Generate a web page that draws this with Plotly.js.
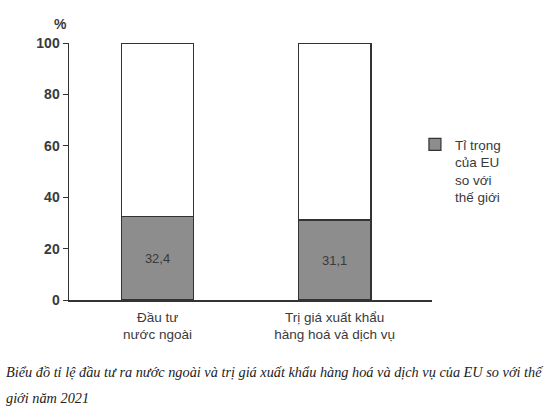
<!DOCTYPE html>
<html>
<head>
<meta charset="utf-8">
<script src="https://cdn.plot.ly/plotly-3.0.1.min.js"></script>
<style>
  html, body { margin: 0; padding: 0; background: #fff; }
  #chart { width: 546px; height: 413px; }
</style>
</head>
<body>
<div id="chart"></div>
<script>
// Data (%)
var categories = ['Đầu tư<br>nước ngoài', 'Trị giá xuất khẩu<br>hàng hoá và dịch vụ'];
var euShare = [32.4, 31.1];
var restShare = [67.6, 68.9];
var euLabels = ['32,4', '31,1'];
var yTicks = [0, 20, 40, 60, 80, 100];

var barGray = '#8d8d8d';
var ink = '#3a3a3a';

var euTrace = {
    type: 'bar',
    x: categories,
    y: euShare,
    name: 'Tỉ trọng<br>của EU<br>so với<br>thế giới',
    width: 0.41,
    marker: { color: barGray, line: { color: '#333', width: 1.2 } },
    text: euLabels,
    textposition: 'inside',
    insidetextanchor: 'middle',
    textfont: { family: 'Liberation Sans, Arial, sans-serif', size: 13, color: ink },
    hoverinfo: 'none'
};

var restTrace = {
    type: 'bar',
    x: categories,
    y: restShare,
    showlegend: false,
    width: 0.41,
    marker: { color: '#ffffff', line: { color: '#333', width: 1.2 } },
    hoverinfo: 'none'
};

var layout = {
    width: 546,
    height: 413,
    margin: { l: 69, r: 114, t: 43, b: 113 },
    paper_bgcolor: '#ffffff',
    plot_bgcolor: '#ffffff',
    barmode: 'stack',
    font: { family: 'Liberation Sans, Arial, sans-serif', color: ink },
    xaxis: {
        type: 'category',
        range: [-0.5, 1.55],
        showline: true,
        linecolor: '#333',
        linewidth: 1.5,
        ticks: '',
        showgrid: false,
        zeroline: false,
        ticklabelstandoff: 4,
        tickfont: { size: 13.5, color: ink }
    },
    yaxis: {
        range: [0, 100],
        tickvals: yTicks,
        showline: true,
        linecolor: '#333',
        linewidth: 1.5,
        ticks: 'outside',
        ticklen: 5,
        tickcolor: '#333',
        showgrid: false,
        zeroline: false,
        tickfont: { size: 14, color: ink, weight: 'bold' }
    },
    legend: {
        x: 0.953,
        y: 0.665,
        xanchor: 'left',
        yanchor: 'top',
        valign: 'top',
        font: { size: 13.5, color: ink },
        bgcolor: 'rgba(0,0,0,0)'
    },
    annotations: [
        {
            text: '<b>%</b>', xref: 'paper', yref: 'paper',
            x: 0.0, y: 1.035, xanchor: 'right', yanchor: 'bottom',
            showarrow: false, font: { size: 14, color: ink }
        },
        {
            text: '<i>Biểu đồ tỉ lệ đầu tư ra nước ngoài và trị giá xuất khẩu hàng hoá và dịch vụ của EU so với thế</i>',
            xref: 'paper', yref: 'paper', x: -0.18, y: -0.28,
            xanchor: 'left', yanchor: 'middle', showarrow: false,
            font: { family: 'Liberation Serif, DejaVu Serif, serif', size: 14.3, color: '#222' }
        },
        {
            text: '<i>giới năm 2021</i>',
            xref: 'paper', yref: 'paper', x: -0.18, y: -0.38,
            xanchor: 'left', yanchor: 'middle', showarrow: false,
            font: { family: 'Liberation Serif, DejaVu Serif, serif', size: 14.3, color: '#222' }
        }
    ]
};

Plotly.newPlot('chart', [euTrace, restTrace], layout, { displayModeBar: false, staticPlot: true });
</script>
</body>
</html>
